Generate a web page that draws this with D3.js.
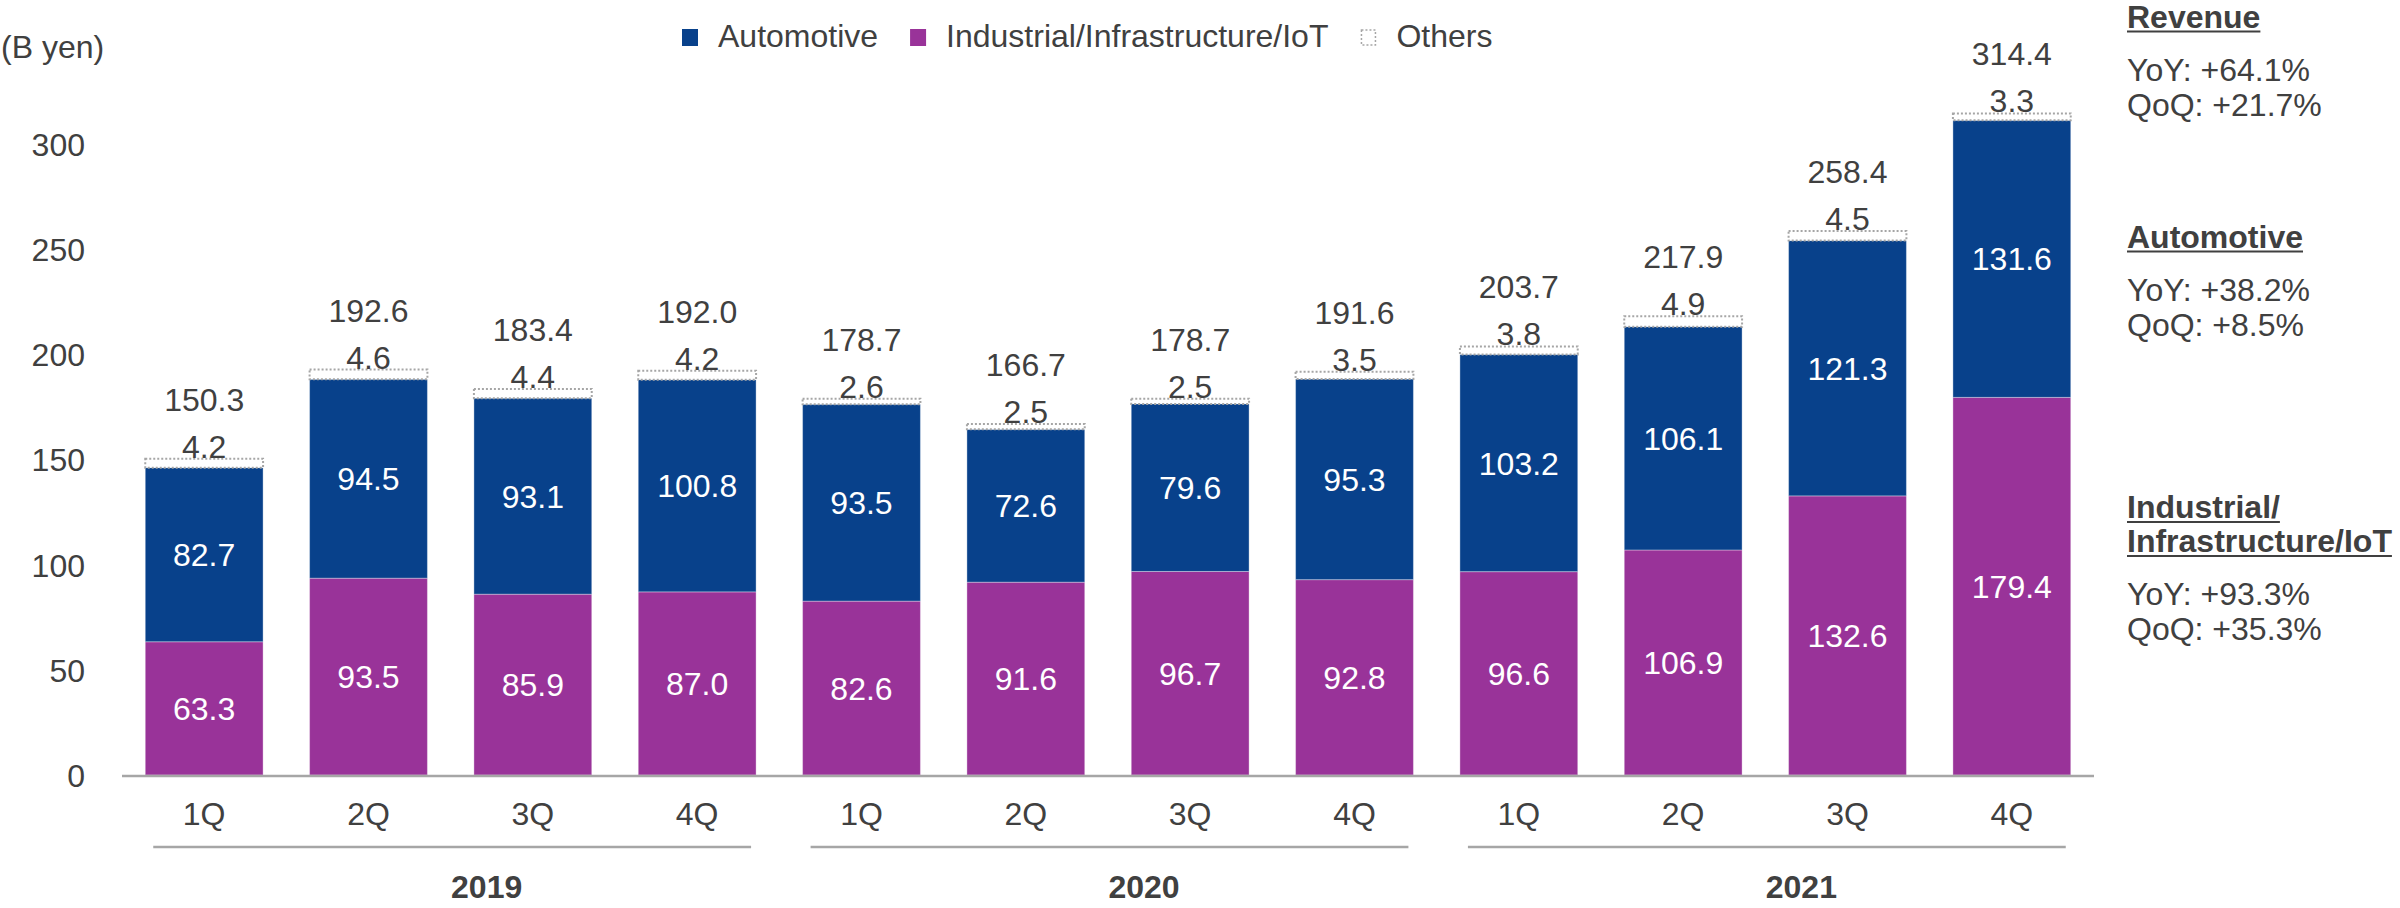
<!DOCTYPE html>
<html>
<head>
<meta charset="utf-8">
<script src="https://cdn.jsdelivr.net/npm/d3@7"></script>
<style>
  html, body { margin: 0; padding: 0; background: #ffffff; }
  svg { display: block; }
  text { font-family: "Liberation Sans", Arial, sans-serif; fill: #404040; }
</style>
</head>
<body>
<svg id="chart" width="2400" height="908"></svg>
<script>
// Quarterly revenue by segment (B yen)
const years = ["2019", "2020", "2021"];
const quarters = ["1Q", "2Q", "3Q", "4Q"];
const categories = years.flatMap(y => quarters.map(q => y + "-" + q));
const industrial = [63.3, 93.5, 85.9, 87.0, 82.6, 91.6, 96.7, 92.8, 96.6, 106.9, 132.6, 179.4];
const automotive = [82.7, 94.5, 93.1, 100.8, 93.5, 72.6, 79.6, 95.3, 103.2, 106.1, 121.3, 131.6];
const others = [4.2, 4.6, 4.4, 4.2, 2.6, 2.5, 2.5, 3.5, 3.8, 4.9, 4.5, 3.3];
const totals = [150.3, 192.6, 183.4, 192.0, 178.7, 166.7, 178.7, 191.6, 203.7, 217.9, 258.4, 314.4];
const yTicks = [0, 50, 100, 150, 200, 250, 300];
const legendItems = ["Automotive", "Industrial/Infrastructure/IoT", "Others"];
const notes = [
  { title: ["Revenue"], yoy: "+64.1%", qoq: "+21.7%" },
  { title: ["Automotive"], yoy: "+38.2%", qoq: "+8.5%" },
  { title: ["Industrial/", "Infrastructure/IoT"], yoy: "+93.3%", qoq: "+35.3%" }
];

const BLUE = "#08418b";
const PURPLE = "#993399";
const GRID = "#a6a6a6";
const FS = 32;

const svg = d3.select("#chart");

const x = d3.scaleBand()
  .domain(categories)
  .range([122, 2094])
  .paddingInner(0.283)
  .paddingOuter(0.1415);
const y = d3.scaleLinear().domain([0, 300]).range([775, 143.5]);

// stacked series: industrial at the bottom, automotive, then others
const rows = categories.map((c, i) => ({
  key: c, industrial: industrial[i], automotive: automotive[i], others: others[i]
}));
const stack = d3.stack().keys(["industrial", "automotive", "others"]);
const series = stack(rows);
const fills = { industrial: PURPLE, automotive: BLUE, others: "#ffffff" };

// y axis labels
const yAxis = d3.axisLeft(y).tickValues(yTicks).tickSize(0).tickPadding(0);
const yg = svg.append("g").attr("transform", "translate(85,0)").call(yAxis);
yg.select(".domain").remove();
yg.selectAll("text")
  .attr("font-size", FS)
  .style("font-family", "'Liberation Sans', Arial, sans-serif")
  .attr("fill", "#404040")
  .attr("dy", "0.36em");

svg.append("text").attr("x", 1).attr("y", 58).attr("font-size", FS).text("(B yen)");

// bars
series.forEach(s => {
  const g = svg.append("g");
  g.selectAll("rect").data(s).join("rect")
    .attr("x", d => x(d.data.key))
    .attr("width", x.bandwidth())
    .attr("y", d => y(d[1]))
    .attr("height", d => y(d[0]) - y(d[1]))
    .attr("fill", fills[s.key])
    .attr("stroke", s.key === "others" ? GRID : "rgba(255,255,255,0.35)")
    .attr("stroke-width", s.key === "others" ? 2 : 1)
    .attr("stroke-dasharray", s.key === "others" ? "2,2" : null);
});

// segment value labels (centered in segments)
series.filter(s => s.key !== "others").forEach(s => {
  svg.append("g").selectAll("text").data(s).join("text")
    .attr("x", d => x(d.data.key) + x.bandwidth() / 2)
    .attr("y", d => (y(d[0]) + y(d[1])) / 2)
    .attr("dy", "0.36em")
    .attr("text-anchor", "middle")
    .attr("font-size", FS)
    .style("fill", "#ffffff")
    .text(d => d.data[s.key].toFixed(1));
});

// others labels and totals above stacks
const topS = series[2];
svg.append("g").selectAll("text").data(topS).join("text")
  .attr("x", d => x(d.data.key) + x.bandwidth() / 2)
  .attr("y", d => y(d[1]) - 1)
  .attr("text-anchor", "middle")
  .attr("font-size", FS)
  .text(d => d.data.others.toFixed(1));
svg.append("g").selectAll("text").data(topS).join("text")
  .attr("x", d => x(d.data.key) + x.bandwidth() / 2)
  .attr("y", (d, i) => y(d[1]) - 48)
  .attr("text-anchor", "middle")
  .attr("font-size", FS)
  .text((d, i) => totals[i].toFixed(1));

// baseline
svg.append("line")
  .attr("x1", x.range()[0]).attr("x2", x.range()[1])
  .attr("y1", y(0) + 1).attr("y2", y(0) + 1)
  .attr("stroke", GRID).attr("stroke-width", 2.5);

// quarter labels
svg.append("g").selectAll("text").data(categories).join("text")
  .attr("x", d => x(d) + x.bandwidth() / 2)
  .attr("y", 825)
  .attr("text-anchor", "middle")
  .attr("font-size", FS)
  .text(d => d.split("-")[1]);

// year groups
years.forEach(yr => {
  const first = x(yr + "-1Q"), last = x(yr + "-4Q") + x.bandwidth();
  svg.append("line")
    .attr("x1", first + 8).attr("x2", last - 5)
    .attr("y1", 847).attr("y2", 847)
    .attr("stroke", GRID).attr("stroke-width", 2.5);
  svg.append("text")
    .attr("x", (first + last) / 2 + 36)
    .attr("y", 898)
    .attr("text-anchor", "middle")
    .attr("font-size", FS)
    .attr("font-weight", "bold")
    .text(yr);
});

// legend
let lx = 682;
legendItems.forEach((name, i) => {
  const sw = svg.append("rect")
    .attr("x", lx).attr("y", 29).attr("width", 16).attr("height", 17);
  if (i === 0) sw.attr("fill", BLUE);
  else if (i === 1) sw.attr("fill", PURPLE);
  else sw.attr("x", lx + 1).attr("y", 30).attr("width", 14).attr("height", 15)
    .attr("fill", "#fff").attr("stroke", GRID).attr("stroke-width", 1.5).attr("stroke-dasharray", "2,2");
  const t = svg.append("text").attr("x", lx + 36).attr("y", 47)
    .attr("font-size", FS).text(name);
  lx += 36 + t.node().getComputedTextLength() + 32;
});

// side notes
const nx = 2127;
const noteTops = [27.5, 247.5, 518];
notes.forEach((n, k) => {
  let by = noteTops[k];
  n.title.forEach(line => {
    const t = svg.append("text").attr("x", nx).attr("y", by)
      .attr("font-size", FS).attr("font-weight", "bold").text(line);
    const w = t.node().getComputedTextLength();
    svg.append("line").attr("x1", nx).attr("x2", nx + w)
      .attr("y1", by + 4).attr("y2", by + 4)
      .attr("stroke", "#404040").attr("stroke-width", 2);
    by += 34;
  });
  by += 19;
  svg.append("text").attr("x", nx).attr("y", by).attr("font-size", FS).text("YoY: " + n.yoy);
  svg.append("text").attr("x", nx).attr("y", by + 35).attr("font-size", FS).text("QoQ: " + n.qoq);
});
</script>
</body>
</html>
